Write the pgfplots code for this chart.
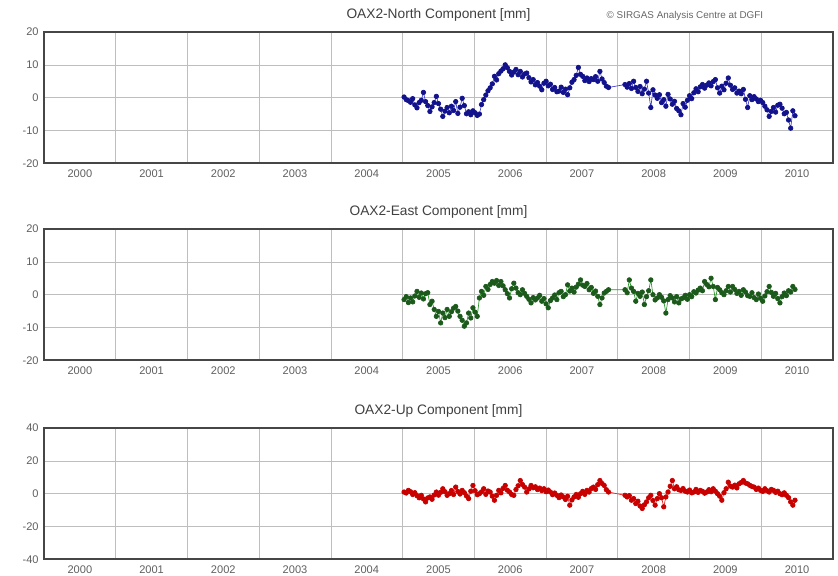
\documentclass[border=0pt]{standalone}
\usepackage{fontspec}
\setmainfont{Liberation Sans}
\usepackage{pgfplots}
\pgfplotsset{compat=1.18}
\usepackage{pgfplotstable}

\definecolor{nmark}{RGB}{18,18,140}
\definecolor{nline}{RGB}{60,60,200}
\definecolor{emark}{RGB}{28,90,28}
\definecolor{eline}{RGB}{40,150,40}
\definecolor{umark}{RGB}{200,0,0}
\definecolor{uline}{RGB}{235,30,30}
\definecolor{framec}{RGB}{70,70,70}
\definecolor{gridc}{RGB}{190,190,190}
\definecolor{tickc}{RGB}{95,95,95}

% weekly station coordinates OAX2, residuals in mm (time in years)
\pgfplotstableread{
t v
2004.52 0.2
2004.55 -0.6
2004.58 -0.9
2004.61 -1.4
2004.64 -0.3
2004.67 -2.2
2004.70 -3.1
2004.73 -1.5
2004.76 -0.8
2004.79 1.6
2004.82 -1.2
2004.85 -2.4
2004.88 -4.2
2004.91 -2.8
2004.94 -1.5
2004.97 0.4
2005.00 -1.8
2005.03 -3.5
2005.06 -5.7
2005.09 -4.1
2005.12 -3.0
2005.15 -4.6
2005.18 -2.6
2005.21 -3.9
2005.24 -1.2
2005.27 -4.8
2005.30 -2.9
2005.33 -0.2
2005.36 -2.4
2005.39 -4.9
2005.42 -4.3
2005.45 -5.2
2005.48 -4.0
2005.51 -4.6
2005.54 -5.4
2005.57 -5.0
2005.60 -2.1
2005.63 -0.6
2005.66 0.8
2005.69 2.1
2005.72 3.0
2005.75 4.2
2005.78 6.5
2005.81 5.4
2005.84 7.3
2005.87 8.1
2005.90 8.8
2005.93 10.0
2005.96 9.1
2005.99 8.0
2006.02 6.9
2006.05 7.8
2006.08 8.6
2006.11 7.0
2006.14 8.0
2006.17 6.3
2006.20 7.2
2006.23 7.5
2006.26 6.1
2006.29 4.8
2006.32 5.5
2006.35 3.9
2006.38 4.6
2006.41 3.5
2006.44 2.4
2006.47 4.4
2006.50 5.0
2006.53 3.6
2006.56 4.1
2006.59 2.5
2006.62 3.1
2006.65 1.8
2006.68 2.0
2006.71 3.2
2006.74 1.6
2006.77 2.6
2006.80 0.9
2006.83 3.0
2006.86 4.7
2006.89 5.5
2006.92 6.8
2006.95 9.2
2006.98 7.1
2007.01 6.5
2007.04 5.2
2007.07 6.0
2007.10 4.9
2007.13 5.8
2007.16 5.5
2007.19 6.4
2007.22 5.0
2007.25 8.0
2007.28 5.7
2007.31 4.6
2007.34 3.5
2007.37 3.1
2007.60 4.0
2007.63 3.2
2007.66 4.3
2007.69 2.8
2007.72 5.0
2007.75 3.1
2007.78 1.9
2007.81 3.4
2007.84 1.2
2007.87 2.6
2007.90 5.0
2007.93 1.4
2007.96 -3.0
2007.99 2.4
2008.02 0.8
2008.05 -0.2
2008.08 0.9
2008.11 -1.5
2008.14 -0.6
2008.17 -2.6
2008.20 1.0
2008.23 -0.4
2008.26 -2.0
2008.29 -1.1
2008.32 -3.3
2008.35 -4.0
2008.38 -5.2
2008.41 -1.8
2008.44 -2.9
2008.47 -0.8
2008.50 0.6
2008.53 -0.3
2008.56 1.5
2008.59 2.7
2008.62 1.8
2008.65 3.3
2008.68 4.0
2008.71 2.9
2008.74 3.8
2008.77 4.5
2008.80 3.6
2008.83 4.9
2008.86 5.5
2008.89 3.0
2008.92 1.4
2008.95 3.5
2008.98 2.4
2009.01 4.4
2009.04 6.0
2009.07 3.8
2009.10 2.5
2009.13 3.0
2009.16 1.4
2009.19 2.0
2009.22 1.2
2009.25 2.5
2009.28 -0.5
2009.31 -3.0
2009.34 0.6
2009.37 -0.6
2009.40 0.3
2009.43 -0.4
2009.46 -1.2
2009.49 -0.8
2009.52 -1.5
2009.55 -2.6
2009.58 -3.7
2009.61 -5.7
2009.64 -4.2
2009.67 -3.0
2009.70 -4.4
2009.73 -2.3
2009.76 -2.0
2009.79 -3.2
2009.82 -4.9
2009.85 -4.5
2009.88 -6.8
2009.91 -9.3
2009.94 -4.0
2009.97 -5.5
}\northdata

\pgfplotstableread{
t v
2004.52 -1.5
2004.55 -0.6
2004.58 -2.4
2004.61 -1.0
2004.64 -2.2
2004.67 -0.4
2004.70 1.0
2004.73 -0.8
2004.76 0.5
2004.79 -1.3
2004.82 0.3
2004.85 0.6
2004.88 -3.0
2004.91 -2.0
2004.94 -4.5
2004.97 -6.6
2005.00 -5.1
2005.03 -8.6
2005.06 -5.6
2005.09 -7.0
2005.12 -4.5
2005.15 -6.6
2005.18 -5.2
2005.21 -4.1
2005.24 -3.6
2005.27 -5.0
2005.30 -6.6
2005.33 -7.8
2005.36 -9.6
2005.39 -8.6
2005.42 -5.6
2005.45 -7.1
2005.48 -4.0
2005.51 -5.3
2005.54 -6.6
2005.57 -1.0
2005.60 1.0
2005.63 -0.2
2005.66 2.5
2005.69 1.6
2005.72 3.1
2005.75 4.0
2005.78 3.5
2005.81 4.3
2005.84 2.8
2005.87 4.0
2005.90 2.7
2005.93 1.5
2005.96 0.3
2005.99 -1.0
2006.02 1.8
2006.05 3.5
2006.08 2.0
2006.11 0.6
2006.14 0.0
2006.17 1.5
2006.20 0.4
2006.23 -0.5
2006.26 -1.4
2006.29 -2.5
2006.32 -0.9
2006.35 -1.6
2006.38 -1.0
2006.41 -0.2
2006.44 -2.0
2006.47 -1.2
2006.50 -2.8
2006.53 -4.0
2006.56 -1.8
2006.59 -1.0
2006.62 -0.1
2006.65 -1.5
2006.68 0.6
2006.71 1.0
2006.74 -0.6
2006.77 0.0
2006.80 3.0
2006.83 1.1
2006.86 2.0
2006.89 0.8
2006.92 2.3
2006.95 3.2
2006.98 4.5
2007.01 2.9
2007.04 2.5
2007.07 3.4
2007.10 1.5
2007.13 2.2
2007.16 0.4
2007.19 1.1
2007.22 -0.5
2007.25 -3.0
2007.28 -1.0
2007.31 0.5
2007.34 1.0
2007.37 1.5
2007.60 1.5
2007.63 0.6
2007.66 4.5
2007.69 2.0
2007.72 1.0
2007.75 -2.0
2007.78 0.4
2007.81 -0.5
2007.84 0.8
2007.87 -3.0
2007.90 -0.6
2007.93 1.2
2007.96 4.5
2007.99 0.0
2008.02 -1.6
2008.05 -1.0
2008.08 0.0
2008.11 -0.8
2008.14 -1.9
2008.17 -5.6
2008.20 -1.5
2008.23 -0.3
2008.26 -1.0
2008.29 -2.2
2008.32 -0.6
2008.35 -2.5
2008.38 -1.3
2008.41 -1.0
2008.44 -0.2
2008.47 -1.4
2008.50 0.0
2008.53 -0.6
2008.56 0.9
2008.59 0.5
2008.62 1.4
2008.65 2.0
2008.68 1.2
2008.71 4.0
2008.74 3.1
2008.77 2.4
2008.80 5.0
2008.83 2.5
2008.86 -1.5
2008.89 2.2
2008.92 1.5
2008.95 0.6
2008.98 0.0
2009.01 1.2
2009.04 2.5
2009.07 0.8
2009.10 2.5
2009.13 1.6
2009.16 0.4
2009.19 1.0
2009.22 -0.2
2009.25 1.5
2009.28 0.8
2009.31 -0.3
2009.34 -0.5
2009.37 0.6
2009.40 -0.9
2009.43 -1.5
2009.46 0.2
2009.49 -1.1
2009.52 -2.0
2009.55 -0.4
2009.58 0.9
2009.61 2.5
2009.64 0.7
2009.67 -0.5
2009.70 0.4
2009.73 -1.2
2009.76 -2.5
2009.79 -0.6
2009.82 0.5
2009.85 -0.3
2009.88 1.2
2009.91 0.8
2009.94 2.5
2009.97 1.6
}\eastdata

\pgfplotstableread{
t v
2004.52 1.0
2004.55 0.4
2004.58 2.0
2004.61 1.2
2004.64 -0.5
2004.67 0.6
2004.70 -1.2
2004.73 -2.5
2004.76 -1.0
2004.79 -3.2
2004.82 -5.0
2004.85 -2.6
2004.88 -2.0
2004.91 -3.4
2004.94 -0.8
2004.97 1.0
2005.00 -0.9
2005.03 0.8
2005.06 3.0
2005.09 1.2
2005.12 -1.0
2005.15 0.0
2005.18 1.9
2005.21 -0.5
2005.24 4.0
2005.27 1.3
2005.30 -0.2
2005.33 2.0
2005.36 0.6
2005.39 -1.4
2005.42 -3.0
2005.45 1.5
2005.48 5.0
2005.51 1.8
2005.54 -0.6
2005.57 0.0
2005.60 1.1
2005.63 3.0
2005.66 -0.4
2005.69 1.6
2005.72 1.0
2005.75 -1.5
2005.78 -4.0
2005.81 -1.0
2005.84 2.0
2005.87 0.5
2005.90 3.2
2005.93 5.0
2005.96 2.1
2005.99 1.0
2006.02 -0.5
2006.05 -1.0
2006.08 2.5
2006.11 4.8
2006.14 8.0
2006.17 5.6
2006.20 4.0
2006.23 1.0
2006.26 2.9
2006.29 5.0
2006.32 3.6
2006.35 4.2
2006.38 2.5
2006.41 3.4
2006.44 1.9
2006.47 3.0
2006.50 1.2
2006.53 2.2
2006.56 1.0
2006.59 -0.6
2006.62 0.4
2006.65 -1.0
2006.68 -2.4
2006.71 -0.8
2006.74 -2.0
2006.77 -3.5
2006.80 -1.6
2006.83 -7.0
2006.86 -3.8
2006.89 -2.0
2006.92 -0.5
2006.95 -2.2
2006.98 0.0
2007.01 1.4
2007.04 -0.4
2007.07 2.0
2007.10 1.0
2007.13 3.1
2007.16 4.0
2007.19 2.6
2007.22 5.5
2007.25 8.0
2007.28 6.2
2007.31 5.0
2007.34 2.4
2007.37 1.0
2007.60 -1.0
2007.63 -2.0
2007.66 -1.2
2007.69 -4.0
2007.72 -3.0
2007.75 -6.0
2007.78 -4.6
2007.81 -7.5
2007.84 -9.0
2007.87 -6.8
2007.90 -5.0
2007.93 -2.5
2007.96 -1.0
2007.99 -4.2
2008.02 -7.0
2008.05 -3.0
2008.08 0.0
2008.11 -2.5
2008.14 -8.0
2008.17 -2.0
2008.20 1.0
2008.23 4.5
2008.26 8.0
2008.29 3.0
2008.32 4.2
2008.35 2.4
2008.38 2.0
2008.41 3.1
2008.44 1.5
2008.47 1.0
2008.50 2.2
2008.53 0.5
2008.56 1.0
2008.59 2.6
2008.62 0.8
2008.65 2.0
2008.68 1.4
2008.71 0.3
2008.74 1.0
2008.77 2.4
2008.80 1.2
2008.83 3.0
2008.86 1.5
2008.89 0.0
2008.92 -1.5
2008.95 -4.0
2008.98 0.6
2009.01 3.0
2009.04 7.0
2009.07 4.6
2009.10 4.0
2009.13 5.2
2009.16 3.5
2009.19 6.0
2009.22 6.8
2009.25 8.0
2009.28 6.5
2009.31 6.0
2009.34 5.1
2009.37 4.4
2009.40 4.0
2009.43 2.6
2009.46 3.4
2009.49 2.0
2009.52 1.4
2009.55 3.0
2009.58 1.8
2009.61 1.0
2009.64 2.6
2009.67 2.0
2009.70 0.8
2009.73 1.5
2009.76 0.0
2009.79 -0.6
2009.82 0.5
2009.85 -1.0
2009.88 -2.4
2009.91 -5.0
2009.94 -7.0
2009.97 -4.0
}\updata

\pgfplotsset{
  tspanel/.style={
    scale only axis,
    width=591.75pt, height=98.5pt,
    anchor=north west,
    xmin=1999.5, xmax=2010.5,
    xtick={2000,...,2010},
    minor xtick={2000.5,2001.5,...,2009.5},
    xminorgrids=true, xmajorgrids=false, ymajorgrids=true,
    major tick length=0pt, minor tick length=0pt,
    grid style={color=gridc, line width=0.5pt},
    minor grid style={color=gridc, line width=0.5pt},
    axis line style={color=framec, line width=1.3pt},
    tick label style={font=\fontsize{8.3}{10}\selectfont, color=tickc},
    /pgf/number format/assume math mode=true,
    x tick label style={/pgf/number format/1000 sep={}, yshift=-1pt},
    y tick label style={xshift=-0.5pt},
    title style={font=\fontsize{10.3}{12}\selectfont, color=black!75, yshift=-1.8pt},
  },
  tsline/.style={line width=0.5pt, mark=*, mark size=1.7pt},
}

\begin{document}
\begin{tikzpicture}
\path[use as bounding box] (0,0) rectangle (628.5pt,-431.25pt);

\begin{axis}[tspanel, at={(33pt,-24pt)},
  ymin=-20, ymax=20, ytick={-20,-10,...,20},
  title={OAX2-North Component [mm]}]
  \addplot[tsline, color=nline, mark options={draw=nmark, fill=nmark}]
    table[x=t, y=v] {\northdata};
\end{axis}

\node[anchor=west, font=\fontsize{7.4}{9}\selectfont, color=black!60]
  at (451.5pt,-12pt) {\textcopyright\ SIRGAS Analysis Centre at DGFI};

\begin{axis}[tspanel, at={(33pt,-171.75pt)},
  ymin=-20, ymax=20, ytick={-20,-10,...,20},
  title={OAX2-East Component [mm]}]
  \addplot[tsline, color=eline, mark options={draw=emark, fill=emark}]
    table[x=t, y=v] {\eastdata};
\end{axis}

\begin{axis}[tspanel, at={(33pt,-321pt)},
  ymin=-40, ymax=40, ytick={-40,-20,...,40},
  title={OAX2-Up Component [mm]}]
  \addplot[tsline, color=uline, mark options={draw=umark, fill=umark}]
    table[x=t, y=v] {\updata};
\end{axis}
\end{tikzpicture}
\end{document}
